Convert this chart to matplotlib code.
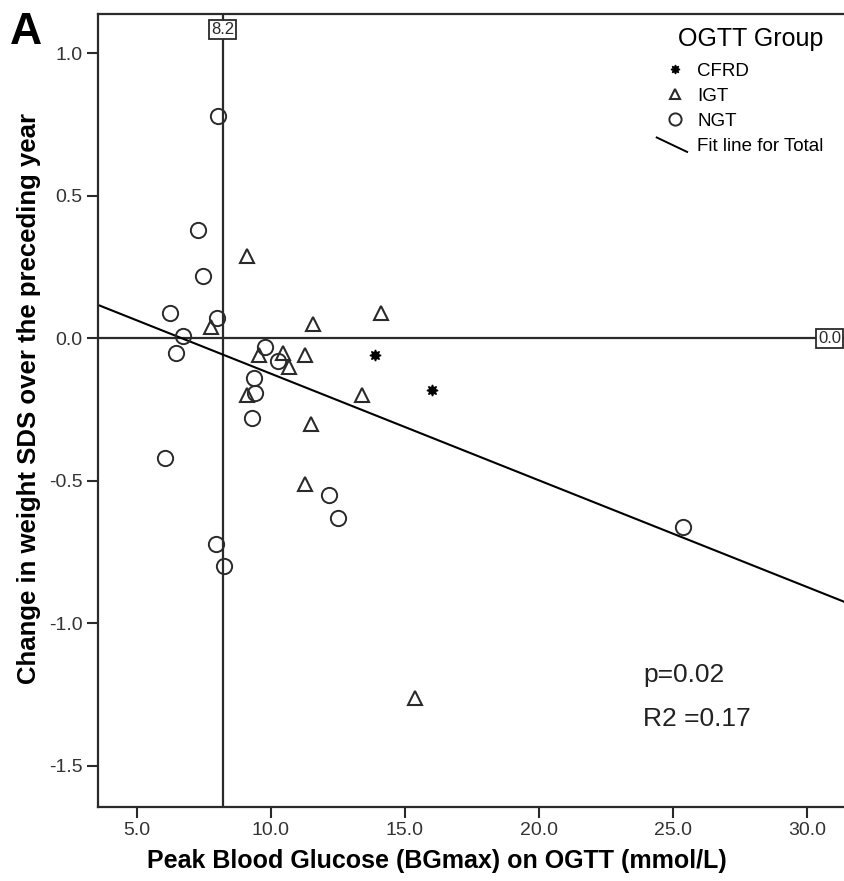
import numpy as np
import matplotlib.pyplot as plt
from matplotlib.lines import Line2D
from matplotlib.legend_handler import HandlerBase

plt.rcParams['font.family'] = ['Liberation Sans', 'DejaVu Sans']

# NGT group (circles)
ngt_x = [8.03, 7.29, 7.45, 6.23, 7.97, 6.73, 6.46, 9.78, 10.25, 9.37,
         9.40, 9.28, 6.04, 12.16, 12.49, 7.95, 8.25, 25.37]
ngt_y = [0.78, 0.38, 0.22, 0.09, 0.07, 0.01, -0.05, -0.03, -0.08, -0.14,
         -0.19, -0.28, -0.42, -0.55, -0.63, -0.72, -0.80, -0.66]

# IGT group (triangles)
igt_x = [9.09, 7.76, 11.56, 14.09, 9.56, 10.46, 11.27, 10.68, 9.09,
         13.40, 11.48, 11.27, 15.37]
igt_y = [0.29, 0.04, 0.05, 0.09, -0.06, -0.05, -0.06, -0.10, -0.20,
         -0.20, -0.30, -0.51, -1.26]

# CFRD group (stars)
cfrd_x = [13.89, 16.0]
cfrd_y = [-0.06, -0.18]

# fit line for total
fit_intercept = 0.250
fit_slope = -0.0374

ref_x = 8.2
ref_y = 0.0

xticks = [5, 10, 15, 20, 25, 30]
yticks = [-1.5, -1.0, -0.5, 0.0, 0.5, 1.0]

dark = '#2a2a2a'


class DiagLine(HandlerBase):
    # SPSS draws the fit line legend key as a short diagonal
    def create_artists(self, legend, orig_handle, xdescent, ydescent,
                       width, height, fontsize, trans):
        ln = Line2D([-xdescent - 0.3 * width, width * 1.05],
                    [height * 1.0, height * -0.1],
                    color='black', lw=1.4, transform=trans)
        return [ln]


fig = plt.figure(figsize=(8.44, 8.81), dpi=100)
ax_l, ax_r, ax_b, ax_t = 98, 846, 74.3, 867
ax = fig.add_axes([ax_l / 844, ax_b / 881, (ax_r - ax_l) / 844, (ax_t - ax_b) / 881])

xmin, xmax = 3.545, 31.46
ymin, ymax = -1.643, 1.138
ax.set_xlim(xmin, xmax)
ax.set_ylim(ymin, ymax)

# reference lines
ax.axvline(ref_x, color=dark, lw=1.6, zorder=1)
ax.axhline(ref_y, color=dark, lw=1.6, zorder=1)

# fit line
fx = np.array([xmin, xmax])
fit_line, = ax.plot(fx, fit_intercept + fit_slope * fx, color='black', lw=1.5,
                    label='Fit line for Total', zorder=2)

h_cfrd, = ax.plot(cfrd_x, cfrd_y, linestyle='none', marker=(8, 1, 0), ms=8,
                  color='black', mec='black', label='CFRD', zorder=3)
h_igt, = ax.plot(igt_x, igt_y, linestyle='none', marker='^', ms=9.5,
                 mfc='none', mec=dark, mew=1.5, label='IGT', zorder=3)
h_ngt, = ax.plot(ngt_x, ngt_y, linestyle='none', marker='o', ms=11,
                 mfc='none', mec=dark, mew=1.4, label='NGT', zorder=3)

# reference line labels
ax.text(ref_x, 1.082, '8.2', ha='center', va='center', fontsize=12, color=dark,
        bbox=dict(boxstyle='square,pad=0.12', fc='white', ec=dark, lw=1.3))
ax.text(30.85, ref_y, '0.0', ha='center', va='center', fontsize=12, color=dark,
        bbox=dict(boxstyle='square,pad=0.12', fc='white', ec=dark, lw=1.3))

ax.text(23.9, -1.181, 'p=0.02', ha='left', va='center', fontsize=19, color='#222')
ax.text(23.9, -1.334, 'R2 =0.17', ha='left', va='center', fontsize=19, color='#222')

ax.set_xticks(xticks)
ax.set_yticks(yticks)
ax.set_xticklabels([f'{v:.1f}' for v in xticks])
ax.set_yticklabels([f'{v:.1f}' for v in yticks])
ax.tick_params(direction='out', length=8, width=1.5, color=dark,
               labelcolor='#333', labelsize=14, pad=3)
for s in ax.spines.values():
    s.set_color(dark)
    s.set_linewidth(1.6)

ax.set_xlabel('Peak Blood Glucose (BGmax) on OGTT (mmol/L)', fontsize=18,
              fontweight='bold')
ax.set_ylabel('Change in weight SDS over the preceding year', fontsize=18.5,
              fontweight='bold')
ax.xaxis.set_label_coords((437 - ax_l) / (ax_r - ax_l),
                          -(849 - (881 - ax_b)) / (ax_t - ax_b))
ax.yaxis.set_label_coords(-(ax_l - 41) / (ax_r - ax_l),
                          (881 - 399 - ax_b) / (ax_t - ax_b))

leg = ax.legend(handles=[h_cfrd, h_igt, h_ngt, fit_line],
                handler_map={fit_line: DiagLine()},
                title='OGTT Group', title_fontsize=18, fontsize=13.5,
                frameon=False, loc='upper right',
                bbox_to_anchor=(833 / 844, 1 - 18 / 881),
                bbox_transform=fig.transFigure,
                handlelength=1.2, handletextpad=0.6, labelspacing=0.42,
                borderpad=0, markerscale=0.8)
leg._legend_box.align = 'right'
leg._legend_box.sep = 8

fig.text(10 / 844, 1 - 12 / 881, 'A', fontsize=32, fontweight='bold',
         ha='left', va='top')

fig.savefig('out.png', dpi=100)
